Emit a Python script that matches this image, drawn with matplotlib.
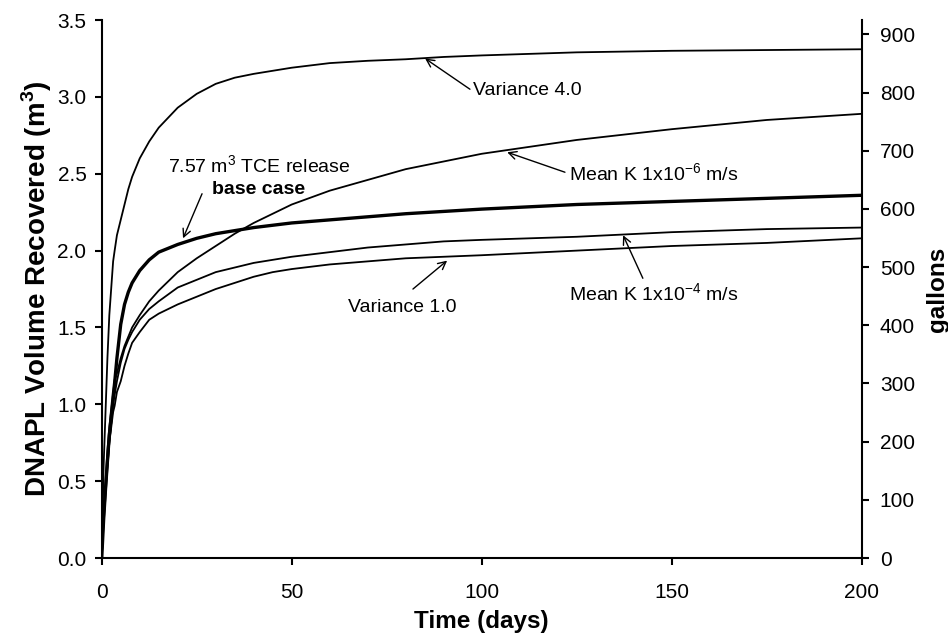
import matplotlib
matplotlib.use("Agg")
import matplotlib.pyplot as plt
from matplotlib.ticker import FormatStrFormatter

plt.rcParams["font.family"] = ["Liberation Sans", "DejaVu Sans"]
plt.rcParams["mathtext.fontset"] = "custom"
plt.rcParams["mathtext.rm"] = "Liberation Sans"
plt.rcParams["mathtext.bf"] = "Liberation Sans:bold"
plt.rcParams["lines.solid_joinstyle"] = "round"

# -------------------------------------------------------------------
# Data
# -------------------------------------------------------------------
days = [0, 0.5, 1, 1.5, 2, 3, 3.4, 4, 5, 6, 7, 8, 10, 12.5, 15, 20, 25, 30,
        35, 40, 45, 50, 60, 70, 80, 90, 100, 125, 150, 175, 200]

variance_4 = [0, 0.6, 0.95, 1.3, 1.58, 1.93, 2.0, 2.1, 2.2, 2.3, 2.4, 2.48,
              2.6, 2.71, 2.8, 2.93, 3.02, 3.085, 3.125, 3.15, 3.17, 3.19,
              3.22, 3.235, 3.245, 3.26, 3.27, 3.29, 3.30, 3.305, 3.31]
base_case = [0, 0.25, 0.45, 0.63, 0.8, 1.05, 1.14, 1.3, 1.52, 1.65, 1.73,
             1.79, 1.87, 1.94, 1.99, 2.04, 2.08, 2.11, 2.13, 2.15, 2.165,
             2.18, 2.2, 2.22, 2.24, 2.255, 2.27, 2.3, 2.32, 2.34, 2.36]
mean_k_1e6 = [0, 0.28, 0.5, 0.7, 0.85, 1.07, 1.16, 1.2, 1.3, 1.38, 1.44,
              1.5, 1.58, 1.67, 1.74, 1.86, 1.95, 2.03, 2.11, 2.18, 2.24,
              2.3, 2.39, 2.46, 2.53, 2.58, 2.63, 2.72, 2.79, 2.85, 2.89]
mean_k_1e4 = [0, 0.22, 0.4, 0.58, 0.75, 1.0, 1.06, 1.15, 1.27, 1.36, 1.42,
              1.47, 1.55, 1.62, 1.67, 1.76, 1.81, 1.86, 1.89, 1.92, 1.94,
              1.96, 1.99, 2.02, 2.04, 2.06, 2.07, 2.09, 2.12, 2.14, 2.15]
variance_1 = [0, 0.25, 0.45, 0.6, 0.75, 0.95, 0.99, 1.08, 1.15, 1.25, 1.33,
              1.4, 1.47, 1.55, 1.59, 1.65, 1.7, 1.75, 1.79, 1.83, 1.86,
              1.88, 1.91, 1.93, 1.95, 1.96, 1.97, 2.0, 2.03, 2.05, 2.08]

GAL_PER_M3 = 264.172
x_ticks = [0, 50, 100, 150, 200]
y_ticks = [0.0, 0.5, 1.0, 1.5, 2.0, 2.5, 3.0, 3.5]
gal_ticks = [0, 100, 200, 300, 400, 500, 600, 700, 800, 900]

# -------------------------------------------------------------------
# Plot
# -------------------------------------------------------------------
fig = plt.figure(figsize=(9.48, 6.37), dpi=100)
ax = fig.add_axes([0.1073, 0.124, 0.8017, 0.8445])

thin = dict(color="black", lw=1.3)
ax.plot(days, variance_4, **thin)
ax.plot(days, mean_k_1e6, **thin)
ax.plot(days, mean_k_1e4, **thin)
ax.plot(days, variance_1, **thin)
ax.plot(days, base_case, color="black", lw=2.4)

ax.set_xlim(0, 200)
ax.set_ylim(0, 3.5)
ax.set_xticks(x_ticks)
ax.set_yticks(y_ticks)
ax.yaxis.set_major_formatter(FormatStrFormatter("%.1f"))
ax.set_xlabel("Time (days)", fontsize=17.5, fontweight="bold", labelpad=6)
ax.set_ylabel("DNAPL Volume Recovered (m$^{\\mathregular{3}}$)",
              fontsize=20, fontweight="bold", labelpad=2)
ax.spines["top"].set_visible(False)
ax.spines["right"].set_visible(False)
for s in ["left", "bottom"]:
    ax.spines[s].set_linewidth(1.5)
ax.tick_params(axis="both", direction="out", length=5, width=1.5,
               labelsize=15, colors="black")
ax.tick_params(axis="x", pad=13)
ax.tick_params(axis="y", pad=6)

ax2 = ax.twinx()
ax2.set_ylim(0, 3.5 * GAL_PER_M3)
ax2.set_yticks(gal_ticks)
ax2.set_ylabel("gallons", fontsize=17.5, fontweight="bold", labelpad=8)
ax2.spines["top"].set_visible(False)
ax2.spines["left"].set_visible(False)
ax2.spines["bottom"].set_visible(False)
ax2.spines["right"].set_linewidth(1.5)
ax2.tick_params(axis="y", direction="out", length=5, width=1.5,
                labelsize=15, pad=8)

# annotations
arrow = dict(arrowstyle="->", color="black", lw=1.0,
             shrinkA=0, shrinkB=0, mutation_scale=14)
note = dict(fontsize=14, va="center")

ax.annotate("", xy=(85.1, 3.25), xytext=(96.9, 3.05), arrowprops=arrow)
ax.text(97.8, 3.04, "Variance 4.0", ha="left", **note)

ax.annotate("", xy=(106.7, 2.64), xytext=(121.9, 2.51), arrowprops=arrow)
ax.text(123.0, 2.50, "Mean K 1x10$^{\\mathregular{-6}}$ m/s", ha="left", **note)

ax.annotate("", xy=(137.2, 2.10), xytext=(142.4, 1.82), arrowprops=arrow)
ax.text(123.0, 1.72, "Mean K 1x10$^{\\mathregular{-4}}$ m/s", ha="left", **note)

ax.annotate("", xy=(90.9, 1.935), xytext=(81.9, 1.75), arrowprops=arrow)
ax.text(64.8, 1.63, "Variance 1.0", ha="left", **note)

ax.annotate("", xy=(21.4, 2.08), xytext=(26.4, 2.37), arrowprops=arrow)
ax.text(17.4, 2.55, "7.57 m$^{\\mathregular{3}}$ TCE release", ha="left", **note)
ax.text(41.4, 2.40, "base case", ha="center", fontweight="bold", **note)

fig.savefig("out.png", dpi=100)
